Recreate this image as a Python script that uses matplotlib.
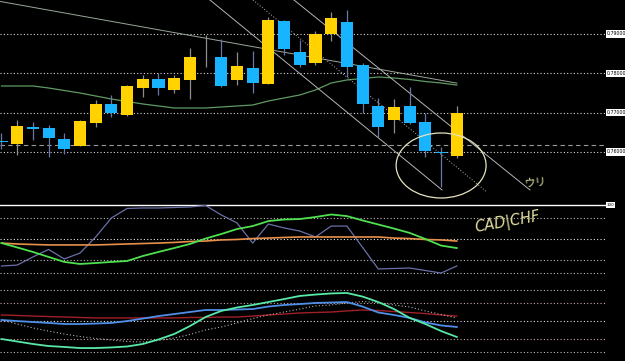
import matplotlib
matplotlib.use("Agg")
import matplotlib.pyplot as plt
import matplotlib.transforms as mtransforms
from matplotlib.patches import Ellipse

# ---------------- data ----------------
opens  = [0.76280, 0.76200, 0.76640, 0.76610, 0.76330, 0.76160, 0.76745, 0.77225, 0.76940, 0.77620,
          0.77855, 0.77575, 0.77830, 0.78405, 0.78420, 0.77830, 0.78125, 0.77720, 0.79330, 0.78535,
          0.78255, 0.78990, 0.79315, 0.78205, 0.77170, 0.76810, 0.77175, 0.76760, 0.75990, 0.75895]
highs  = [0.76480, 0.76810, 0.76760, 0.76685, 0.76480, 0.76810, 0.77320, 0.77450, 0.77700, 0.77955,
          0.78015, 0.77955, 0.78635, 0.78975, 0.78875, 0.78550, 0.78575, 0.79440, 0.79345, 0.78845,
          0.79085, 0.79565, 0.79610, 0.78270, 0.77365, 0.77340, 0.77645, 0.76980, 0.76130, 0.77170]
lows   = [0.76070, 0.75920, 0.76300, 0.75880, 0.75945, 0.76150, 0.76640, 0.76890, 0.76915, 0.77390,
          0.77450, 0.77505, 0.77345, 0.78170, 0.77645, 0.77700, 0.77505, 0.77720, 0.78465, 0.78170,
          0.78210, 0.78830, 0.77915, 0.76980, 0.76385, 0.76490, 0.76700, 0.75880, 0.75115, 0.75835]
closes = [0.76240, 0.76670, 0.76575, 0.76360, 0.76075, 0.76780, 0.77225, 0.76980, 0.77675, 0.77855,
          0.77635, 0.77880, 0.78420, 0.78410, 0.77685, 0.78180, 0.77745, 0.79355, 0.78610, 0.78205,
          0.78990, 0.79400, 0.78170, 0.77210, 0.76640, 0.77140, 0.76730, 0.76030, 0.75975, 0.76980]

ma_green = [0.77677, 0.77677, 0.77677, 0.77626, 0.77562, 0.77499, 0.77422, 0.77346, 0.77282, 0.77219,
            0.77168, 0.77117, 0.77117, 0.77117, 0.77142, 0.77168, 0.77193, 0.77295, 0.77372, 0.77448,
            0.77575, 0.77753, 0.77830, 0.77868, 0.77906, 0.77880, 0.77842, 0.77791, 0.77753, 0.77702]

price_levels = [0.79, 0.78, 0.77, 0.76]
price_labels = ["0.79000", "0.78000", "0.77000", "0.76000"]
hline_price = 0.76176

# drawn objects (candle index, price)
trend_gray = [(-0.1, 0.79829), (29.0, 0.77750)]
chan_a = [(13.28, 0.79865), (28.06, 0.75031)]
chan_b = [(18.63, 0.79865), (33.66, 0.75031)]
chan_c = [(16.02, 0.79865), (30.92, 0.74980)]
ellipse_center = (28.0, 0.75654)
ellipse_size = (5.73, 0.01654)

# indicator window (0..100 scale)
ind_slate  = [60.9, 61.5, 66.7, 71.5, 65.4, 69.2, 79.5, 91.7, 97.8, 98.1,
              98.1, 98.4, 98.7, 99.7, 93.6, 88.5, 75.6, 87.8, 85.3, 83.3,
              79.5, 86.5, 86.5, 72.8, 59.0, 59.3, 59.6, 58.0, 56.4, 60.9]
ind_green  = [75.6, 72.8, 69.9, 66.7, 63.5, 62.2, 62.8, 63.5, 64.1, 67.3,
              69.9, 72.4, 75.0, 78.5, 81.4, 84.6, 86.5, 89.7, 90.7, 91.0,
              92.3, 93.9, 92.9, 90.1, 87.5, 84.9, 82.1, 78.2, 74.0, 72.4]
ind_orange = [75.6, 75.0, 74.7, 74.4, 74.4, 74.4, 74.4, 74.7, 75.0, 75.3,
              75.6, 76.0, 76.6, 76.9, 77.6, 77.9, 78.5, 78.8, 79.2, 79.5,
              79.5, 79.5, 79.5, 79.5, 79.5, 78.8, 78.5, 77.9, 77.6, 76.9]
ind_aqua   = [14.1, 12.5, 10.9, 9.6, 9.0, 8.3, 8.3, 8.7, 9.3, 10.9,
              13.8, 17.3, 22.4, 28.2, 32.1, 34.3, 35.9, 37.8, 39.7, 41.7,
              42.6, 43.3, 43.6, 41.3, 37.8, 33.3, 27.6, 23.7, 19.2, 15.4]
ind_blue   = [26.3, 25.6, 25.0, 24.4, 23.7, 23.7, 24.0, 24.4, 25.6, 27.2,
              28.8, 30.1, 31.4, 32.7, 32.7, 33.0, 33.3, 34.9, 35.9, 36.5,
              37.2, 37.5, 37.8, 34.9, 31.1, 29.5, 27.6, 24.7, 22.8, 21.8]
ind_red    = [29.5, 29.2, 28.8, 28.5, 28.2, 27.9, 27.6, 27.6, 27.6, 27.6,
              27.6, 27.6, 27.9, 27.9, 28.2, 28.2, 28.8, 29.5, 30.1, 30.8,
              31.1, 31.4, 32.1, 32.7, 32.4, 31.7, 31.1, 30.4, 29.5, 28.8]
ind_dotted = [26.3, 23.7, 21.2, 19.2, 17.3, 15.7, 14.4, 13.5, 12.5, 12.2,
              13.1, 14.7, 17.0, 19.9, 21.8, 24.4, 27.2, 29.5, 31.4, 33.3,
              35.3, 35.9, 37.2, 38.1, 37.5, 35.9, 34.6, 32.1, 29.8, 27.6]
ind_levels = [91.7, 78.0, 64.7, 56.2, 45.5, 37.4, 25.6, 13.9, 6.0]
ind_level_colors = ["#bdbdbd", "#e6e6e6", "#bdbdbd", "#bdbdbd", "#bdbdbd",
                    "#c9a6a6", "#e0e0e0", "#c9a6a6", "#bdbdbd"]

# ---------------- figure ----------------
W, H = 625, 361
fig = plt.figure(figsize=(W / 100, H / 100), dpi=100, facecolor="black")
plot_w = 605 / W
ax = fig.add_axes([0, (H - 204) / H, plot_w, 204 / H])
axi = fig.add_axes([0, 0, plot_w, (H - 205) / H])
for a in (ax, axi):
    a.set_facecolor("black")
    a.axis("off")
    a.set_xlim(-0.0955, 38.44)
ax.set_ylim(0.74674, 0.79865)
axi.set_ylim(0, 100)

n = len(opens)
xs = list(range(n))
yellow = "#ffd200"
blue = "#19b4ff"

# grid levels
dot = (0, (1, 2))
for p in price_levels:
    ax.axhline(p, color="#d8d8d8", lw=0.8, ls=dot, zorder=1)
ax.axhline(hline_price, color="#9a9a9a", lw=0.8, ls=(0, (4, 3)), zorder=1)

# MA and trend lines
ax.plot(xs, ma_green, color="#5f9a62", lw=0.9, zorder=2)
for seg, ls, col in [(trend_gray, "-", "#9aa89a"), (chan_a, "-", "#b5b5b5"),
                     (chan_b, "-", "#b5b5b5"), (chan_c, dot, "#b5b5b5")]:
    ax.plot([seg[0][0], seg[1][0]], [seg[0][1], seg[1][1]], color=col, lw=0.7,
            ls=ls, zorder=2)

# candles
for i in range(n):
    o, h, l, c = opens[i], highs[i], lows[i], closes[i]
    up = c >= o
    col = yellow if up else blue
    wick = "#8c8c8c" if up else "#6878a8"
    ax.vlines(i, l, h, color=wick, lw=0.9, zorder=3)
    bot = min(o, c)
    hgt = max(abs(c - o), 0.00012)
    ax.bar(i, hgt, bottom=bot, width=0.77, color=col, edgecolor="none", zorder=4)

# ellipse
ax.add_patch(Ellipse(ellipse_center, ellipse_size[0], ellipse_size[1], fill=False,
                     ec="#e6e2c0", lw=0.9, zorder=5))

# price labels
tr = mtransforms.blended_transform_factory(ax.transAxes, ax.transData)
for p, s in zip(price_levels, price_labels):
    ax.text(1.003, p, s, transform=tr, fontsize=3.4, color="black", va="center",
            ha="left", clip_on=False,
            bbox=dict(boxstyle="square,pad=0.25", fc="white", ec="none"))

# handwriting
ax.text(34.0, 0.75209, "ウリ", fontsize=8, color="#e2dea0", ha="center", va="center",
        family=["Noto Sans CJK JP", "DejaVu Sans"], rotation=5)
axi.text(32.2, 89.0, "CAD|CHF", fontsize=10.5, color="#e2dea0", ha="center", va="center",
         style="italic", rotation=10, family=["DejaVu Sans"], fontweight="light")

# indicator window
axi.axhline(100, color="white", lw=1.0, zorder=1, clip_on=False)
tri = mtransforms.blended_transform_factory(axi.transAxes, axi.transData)
axi.text(1.003, 100, "100", transform=tri, fontsize=3.0, color="black", va="center",
         ha="left", clip_on=False,
         bbox=dict(boxstyle="square,pad=0.2", fc="white", ec="none"))
for lv, lc in zip(ind_levels, ind_level_colors):
    axi.axhline(lv, color=lc, lw=0.8, ls=dot, zorder=1)

axi.plot(xs, ind_slate, color="#6a70a8", lw=0.9, zorder=3)
axi.plot(xs, ind_orange, color="#e8904a", lw=1.2, zorder=3)
axi.plot(xs, ind_green, color="#4ee04e", lw=1.3, zorder=4)
axi.plot(xs, ind_red, color="#a02028", lw=1.0, zorder=3)
axi.plot(xs, ind_dotted, color="#b0b0b0", lw=0.8, ls=dot, zorder=3)
axi.plot(xs, ind_blue, color="#4f8fe8", lw=1.3, zorder=4)
axi.plot(xs, ind_aqua, color="#58e8a8", lw=1.3, zorder=5)

fig.savefig("out.png", dpi=100, facecolor="black")
